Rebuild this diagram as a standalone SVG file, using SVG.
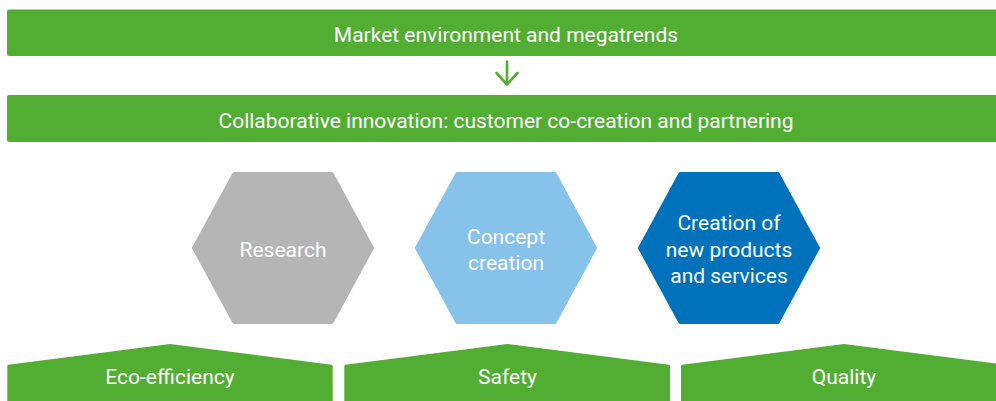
<svg xmlns="http://www.w3.org/2000/svg" width="996" height="401" viewBox="0 0 996 401">
<style>
.bar{fill:#52ae32}
.lbl{font-family:Roboto,"Liberation Sans",sans-serif;font-size:21px;fill:#ffffff;text-anchor:middle}
.hex{stroke-linejoin:round;stroke-width:3}
.conn{fill:none;stroke:#52ae32;stroke-width:2.6;stroke-linecap:round;stroke-linejoin:round}
</style>
<rect width="996" height="401" fill="#ffffff"/>
<g id="market">
<rect class="bar" x="7" y="9.5" width="1000" height="46.5" rx="2"/>
<text class="lbl" x="506" y="42.3">Market environment and megatrends</text>
</g>
<g id="collab">
<rect class="bar" x="7" y="95" width="1000" height="47" rx="2"/>
<text class="lbl" x="506" y="127.7">Collaborative innovation: customer co-creation and partnering</text>
</g>
<g id="connectors">
<path class="conn" d="M507 61.5V84.5M496.5 73L507 84.5L517.5 73"/>
</g>
<g id="research">
<polygon class="hex" fill="#b5b5b5" stroke="#b5b5b5" points="193.5,248 234,173.5 332,173.5 372.5,248 332,322.5 234,322.5"/>
<text class="lbl" x="283" y="256.7">Research</text>
</g>
<g id="concept">
<polygon class="hex" fill="#86c2ea" stroke="#86c2ea" points="416.5,248 457,173.5 555,173.5 595.5,248 555,322.5 457,322.5"/>
<text class="lbl" x="506" y="244">Concept</text>
<text class="lbl" x="506" y="270">creation</text>
</g>
<g id="creation">
<polygon class="hex" fill="#0072bc" stroke="#0072bc" points="639.5,248 680,173.5 778,173.5 818.5,248 778,322.5 680,322.5"/>
<text class="lbl" x="729" y="230">Creation of</text>
<text class="lbl" x="729" y="256.7">new products</text>
<text class="lbl" x="729" y="283.3">and services</text>
</g>
<g id="eco">
<path class="bar" d="M7.3 366Q7.3 365 8.3 364.8L170 344L331.7 364.8Q332.7 365 332.7 366V402H7.3Z"/>
<text class="lbl" x="170" y="384">Eco-efficiency</text>
</g>
<g id="safety">
<path class="bar" d="M344.3 366Q344.3 365 345.3 364.8L507.5 344L669 364.8Q670 365 670 366V402H344.3Z"/>
<text class="lbl" x="507.5" y="384">Safety</text>
</g>
<g id="quality">
<path class="bar" d="M681 366Q681 365 682 364.8L844 344L1007 364.8V402H681Z"/>
<text class="lbl" x="844" y="384">Quality</text>
</g>
</svg>
